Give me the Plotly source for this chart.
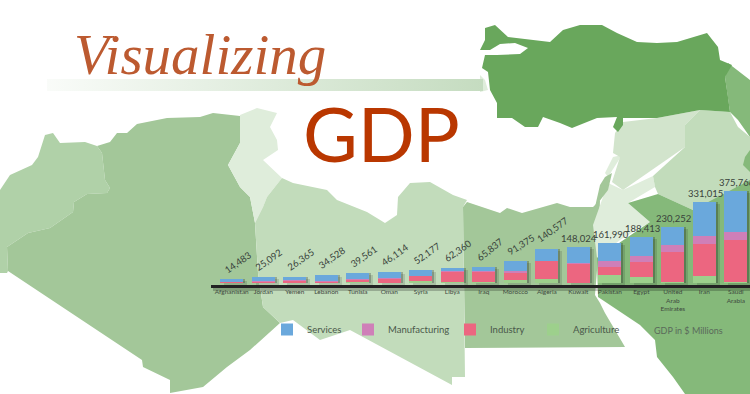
import plotly.graph_objects as go

countries = ["Afghanistan", "Jordan", "Yemen", "Lebanon", "Tunisia", "Oman", "Syria", "Libya", "Iraq",
             "Morocco", "Algeria", "Kuwait", "Pakistan", "Egypt", "United<br>Arab<br>Emirates", "Iran", "Saudi<br>Arabia"]
gdp_labels = ["14,483", "25,092", "26,365", "34,528", "39,561", "46,114", "52,177", "62,360", "65,837",
              "91,375", "140,577", "148,024", "161,990", "188,413", "230,252", "331,015", "375,766"]
gdp_totals = [14483, 25092, 26365, 34528, 39561, 46114, 52177, 62360, 65837,
              91375, 140577, 148024, 161990, 188413, 230252, 331015, 375766]
agriculture = [2000, 500, 4000, 500, 3000, 1000, 10000, 3000, 4000, 14000, 15000, 2000, 31000, 25000, 4000, 28700, 5000]
industry = [3000, 7500, 8000, 6000, 12000, 19000, 19000, 45000, 42000, 30000, 75000, 78000, 33000, 60000, 123000, 132500, 170000]
manufacturing = [500, 500, 500, 500, 500, 500, 1000, 500, 1000, 3000, 1000, 1000, 24000, 25000, 28700, 32800, 34000]
services = [8983, 16592, 13865, 27528, 24061, 25614, 22177, 13860, 18837, 44375, 49577, 67024, 73990, 78413, 74552, 137015, 166766]

# Map outlines (background artwork, image-space outline of each country)
morocco = [(0,190),(10,175),(32,165),(38,157),(45,135),(53,133),(60,143),(85,142),(97,146),(102,153),(105,180),(110,188),(107,193),(87,194),(74,202),(73,212),(50,228),(28,233),(7,247),(8,271),(7,273),(0,273)]
algeria = [(97,146),(110,142),(117,133),(127,133),(137,124),(167,118),(200,117),(213,113),(240,116),(240,143),(228,165),(240,187),(250,197),(255,223),(258,273),(263,307),(280,323),(250,350),(227,367),(203,387),(170,393),(170,380),(143,367),(142,360),(8,271),(7,247),(28,233),(50,228),(73,212),(74,202),(87,194),(107,193),(110,188),(105,180),(102,153)]
tunisia = [(240,115),(257,108),(277,113),(270,127),(277,140),(278,150),(263,160),(273,170),(282,178),(267,197),(263,207),(255,223),(250,197),(240,187),(228,165),(240,143)]
libya = [(255,223),(263,207),(267,197),(282,178),(293,183),(327,190),(337,200),(367,212),(385,223),(397,215),(398,197),(410,183),(430,182),(453,195),(467,200),(463,207),(465,377),(452,377),(452,385),(350,330),(320,340),(293,320),(280,323),(263,307),(258,273)]
egypt = [(463,207),(467,202),(500,213),(507,208),(522,213),(557,203),(570,207),(593,207),(600,200),(598,258),(595,295),(600,303),(605,313),(625,347),(465,348)]
israel = [(605,177),(612,173),(608,190),(600,200),(595,207),(600,185)]
lebanon = [(613,157),(622,155),(608,177),(605,173)]
syria = [(615,133),(623,122),(657,118),(700,110),(685,125),(685,147),(623,190),(612,182),(620,157),(613,153)]
iraq = [(700,110),(730,112),(738,127),(750,137),(750,195),(693,210),(658,194),(655,187),(653,176),(685,147),(685,125)]
jordan = [(608,183),(623,190),(653,176),(655,187),(628,203),(650,222),(620,240),(597,258),(593,225),(605,190)]
saudi = [(628,203),(658,194),(693,210),(750,180),(750,394),(685,394),(673,377),(657,357),(655,340),(640,325),(598,297),(597,258),(650,222)]
iran = [(728,63),(750,80),(750,137),(738,120),(730,112),(728,97),(725,77)]
kuwait_corner = [(750,150),(745,157),(743,165),(750,172)]
turkey = [(485,28),(495,25),(508,37),(530,40),(550,42),(563,30),(580,25),(602,25),(617,33),(637,42),(657,43),(677,42),(707,33),(718,47),(720,60),(732,65),(725,77),(728,97),(730,112),(700,110),(657,118),(623,118),(623,125),(618,132),(613,127),(617,117),(597,118),(572,128),(560,123),(543,117),(538,127),(525,127),(512,118),(497,118),(497,103),(490,90),(488,72),(482,68),(485,55),(497,55),(520,54),(528,48),(515,43),(500,44),(490,50),(480,50),(485,40)]
greece = [(480,75),(485,80),(488,90),(480,92)]
band = [(47,79),(483,79),(483,91),(47,91)]

map_regions = [
    (morocco, "#b0d1a8"), (algeria, "#a3c799"), (tunisia, "#dfeddb"), (libya, "#c2dcbb"),
    (egypt, "#a3c799"), (jordan, "#dfeddb"), (lebanon, "#dfeddb"), (israel, "#a3c799"),
    (syria, "#d2e4cc"), (iraq, "#c2dcbb"), (saudi, "#85b97a"), (iran, "#85b97a"),
    (kuwait_corner, "#85b97a"), (turkey, "#69a75c"), (greece, "#dfeddb"),
]

W, H = 750, 394
fig = go.Figure()

for pts, col in map_regions:
    fig.add_trace(go.Scatter(x=[p[0] for p in pts] + [pts[0][0]], y=[p[1] for p in pts] + [pts[0][1]],
                             mode="lines", line=dict(width=0), fill="toself", fillcolor=col,
                             showlegend=False, hoverinfo="skip", xaxis="x", yaxis="y"))
fig.add_trace(go.Scatter(x=[p[0] for p in band] + [band[0][0]], y=[p[1] for p in band] + [band[0][1]],
                         mode="lines", line=dict(width=0), fill="toself",
                         fillgradient=dict(type="horizontal", colorscale=[[0, "rgba(197,220,192,0.1)"], [1, "#c5dcc0"]]),
                         showlegend=False, hoverinfo="skip", xaxis="x", yaxis="y"))

# blurred-looking drop shadows
for axx, axy, alpha in [("x2", "y2", 0.12), ("x3", "y3", 0.22)]:
    fig.add_trace(go.Bar(x=countries, y=gdp_totals, marker=dict(color=f"rgba(0,0,0,{alpha})", line=dict(width=0)),
                         showlegend=False, hoverinfo="skip", xaxis=axx, yaxis=axy))

series = [("Agriculture", agriculture, "#9dd08c", "legend4"),
          ("Industry", industry, "#ec6680", "legend3"),
          ("Manufacturing", manufacturing, "#cf7fb8", "legend2"),
          ("Services", services, "#6aa8dc", "legend")]
for name, vals, col, leg in series:
    fig.add_trace(go.Bar(x=countries, y=vals, name=name, marker=dict(color=col, line=dict(width=0)),
                         legend=leg, xaxis="x4", yaxis="y4"))

PX_PER_UNIT = 1 / 4085
BASE_PX, TOP_PX, ZERO_PX = 284.5, 170, 283
yrange = [(ZERO_PX - BASE_PX) / PX_PER_UNIT, (ZERO_PX - TOP_PX) / PX_PER_UNIT]
ydom = [(H - BASE_PX) / H, (H - TOP_PX) / H]
LEFT = 211
STEP = 31.5
X_LOW, X_HIGH = -0.66, 16.45


def dom(dx):
    return [(LEFT + dx) / W, 1]


def xr(dx):
    return [X_LOW, X_HIGH - dx / STEP]


def hidden_y(dy):
    return dict(domain=[ydom[0] - dy / H, ydom[1] - dy / H], range=yrange, visible=False)


def shadow_x(dx, anchor, line=False):
    return dict(domain=dom(dx), range=xr(dx), type="category", categoryorder="array", categoryarray=countries,
                anchor=anchor, showticklabels=False, showgrid=False, zeroline=False,
                showline=line, linecolor="rgba(0,0,0,0.22)", linewidth=6, ticks="")


layout = dict(
    width=W, height=H, margin=dict(l=0, r=0, t=0, b=0), autosize=False,
    paper_bgcolor="white", plot_bgcolor="rgba(0,0,0,0)", barmode="stack", bargap=0.26,
    xaxis=dict(domain=[0, 1], range=[0, W], visible=False),
    yaxis=dict(domain=[0, 1], range=[H, 0], visible=False),
    xaxis2=shadow_x(4, "y2"),
    yaxis2=dict(anchor="x2", **hidden_y(2)),
    xaxis3=shadow_x(2, "y3", line=True),
    yaxis3=dict(anchor="x3", **hidden_y(0)),
    xaxis4=dict(domain=dom(0), range=xr(0), type="category", categoryorder="array", categoryarray=countries,
                anchor="y4", showgrid=False, zeroline=False, showline=True, linecolor="#222222", linewidth=3,
                ticks="", tickangle=0, ticklabelstandoff=-1,
                tickfont=dict(family="Lato", size=6.5, color="#3f4a3f")),
    yaxis4=dict(anchor="x4", domain=ydom, range=yrange, visible=False),
)

leg_common = dict(orientation="v", yanchor="middle", xanchor="left", y=(H - 329.5) / H,
                  bgcolor="rgba(0,0,0,0)", font=dict(family="Lato", size=9.5, color="#4a584a"))
for key, px in [("legend", 267), ("legend2", 348), ("legend3", 450), ("legend4", 533)]:
    layout[key] = dict(x=px / W, **leg_common)

annots = []
angles = [-35] * 8 + [-38, -32, -36] + [0] * 6
for c, lab, tot, ang in zip(countries, gdp_labels, gdp_totals, angles):
    annots.append(dict(x=c, y=tot, xref="x4", yref="y4", text=lab, showarrow=False, textangle=ang,
                       xanchor="center", yanchor="bottom", xshift=6 if ang else 1, yshift=1,
                       font=dict(family="Lato", size=9.5, color="#38423a")))
annots += [
    dict(x=72 / W, y=(H - 88) / H, xref="paper", yref="paper", text="<i>Visualizing</i>", showarrow=False,
         xanchor="left", yanchor="bottom", font=dict(family="Liberation Serif", size=57, color="#bc5a30")),
    dict(x=301 / W, y=(H - 133) / H, xref="paper", yref="paper", text="GDP", showarrow=False,
         xanchor="left", yanchor="middle", font=dict(family="Lato", size=75, color="#b93700")),
    dict(x=652 / W, y=(H - 330) / H, xref="paper", yref="paper", text="GDP in $ Millions", showarrow=False,
         xanchor="left", yanchor="middle", font=dict(family="Lato", size=9, color="#5a6a5a")),
]
layout["annotations"] = annots
fig.update_layout(**layout)
fig.write_html("out.html", config={"displayModeBar": False},
               post_script="document.body.style.margin='0';document.body.style.overflow='hidden';")
